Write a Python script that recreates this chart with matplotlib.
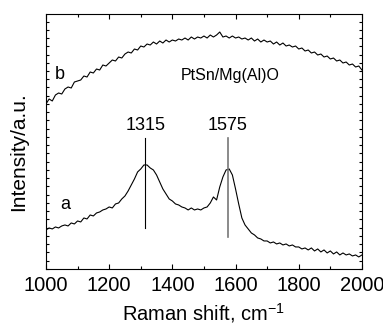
import matplotlib
matplotlib.use("Agg")
import matplotlib.pyplot as plt
from matplotlib.ticker import MultipleLocator, NullFormatter

plt.rcParams["font.family"] = ["Liberation Sans", "DejaVu Sans"]
plt.rcParams["mathtext.fontset"] = "custom"
plt.rcParams["mathtext.rm"] = "Liberation Sans"
plt.rcParams["mathtext.it"] = "Liberation Sans"

# Raman shift, cm-1 (every 10 cm-1)
shift = list(range(1000, 2001, 10))

# spectrum b (upper, broad background), arbitrary units
spec_b = [165, 170, 168, 174, 176, 175, 180, 182, 181, 187,
          188, 189, 193, 192, 197, 196, 200, 199, 204, 203,
          206, 209, 208, 212, 211, 215, 217, 216, 220, 219,
          223, 222, 225, 224, 227, 225, 228, 226, 229, 227,
          229, 228, 230, 229, 231, 229, 232, 230, 232, 231,
          233, 231, 234, 232, 234, 237, 232, 233, 231, 233,
          231, 232, 230, 231, 229, 231, 228, 230, 227, 229,
          227, 228, 225, 227, 224, 226, 223, 224, 222, 223,
          220, 221, 218, 219, 216, 217, 214, 215, 212, 213,
          210, 211, 208, 209, 206, 207, 204, 205, 202, 203,
          199]

# spectrum a (lower, D and G bands), arbitrary units
spec_a = [39, 41, 40, 42, 41, 43, 44, 43, 46, 45,
          48, 47, 51, 50, 54, 53, 56, 57, 59, 60,
          62, 61, 65, 66, 70, 73, 78, 84, 90, 97,
          100, 104, 104, 101, 99, 94, 87, 80, 75, 70,
          68, 65, 64, 62, 61, 59, 61, 59, 60, 59,
          61, 62, 66, 72, 69, 82, 92, 99, 100, 94,
          80, 65, 51, 44, 40, 36, 34, 31, 30, 28,
          28, 26, 27, 25, 26, 24, 25, 23, 24, 22,
          22, 20, 21, 19, 21, 18, 20, 17, 19, 16,
          18, 15, 17, 14, 16, 14, 15, 13, 14, 12,
          14]

peaks = [1315, 1575]
peak_labels = ["1315", "1575"]

fig = plt.figure(figsize=(3.83, 3.26), dpi=100)
ax = fig.add_axes([0.120, 0.175, 0.825, 0.782])

ax.plot(shift, spec_b, color="black", lw=0.8)
ax.plot(shift, spec_a, color="black", lw=0.8)

# peak markers
ax.plot([peaks[0], peaks[0]], [41, 131], color="black", lw=0.8)
ax.plot([peaks[1], peaks[1]], [32, 131], color="#777777", lw=1.2)
for p, lab in zip(peaks, peak_labels):
    ax.text(p, 139, lab, ha="center", va="baseline", fontsize=13)

ax.text(1044, 190, "b", ha="center", va="baseline", fontsize=13)
ax.text(1060, 60, "a", ha="center", va="baseline", fontsize=13)
ax.text(1428, 189, "PtSn/Mg(Al)O", ha="left", va="baseline", fontsize=11.5)

ax.set_xlim(1000, 2000)
ax.set_ylim(0, 255)
ax.xaxis.set_major_locator(MultipleLocator(200))
ax.xaxis.set_minor_locator(MultipleLocator(100))
ax.yaxis.set_major_locator(MultipleLocator(8.25))
ax.yaxis.set_major_formatter(NullFormatter())

ax.tick_params(axis="x", which="both", direction="in", top=True, labelsize=14.5, pad=5)
ax.tick_params(axis="x", which="major", length=3.5, width=0.8)
ax.tick_params(axis="x", which="minor", length=2, width=0.8)
ax.tick_params(axis="y", which="major", direction="in", right=True, length=2, width=0.8)
for s in ax.spines.values():
    s.set_linewidth(0.8)

ax.set_xlabel("Raman shift, cm$^{\\mathregular{-1}}$", fontsize=14.5, va="baseline")
ax.xaxis.set_label_coords(0.5, -0.20)
ax.set_ylabel("Intensity/a.u.", fontsize=15, va="center")
ax.yaxis.set_label_coords(-0.088, 0.46)

fig.savefig("out.png", dpi=100)
